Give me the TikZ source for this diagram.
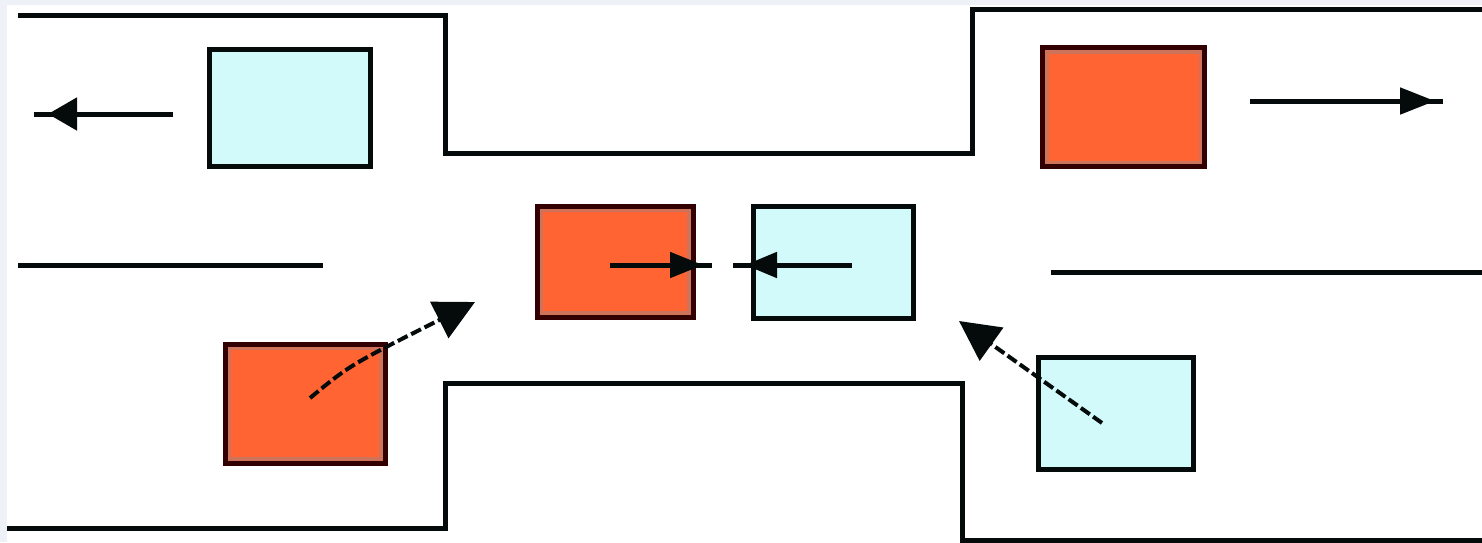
\documentclass[tikz,border=0pt]{standalone}
\usetikzlibrary{arrows.meta}
\definecolor{cyanfill}{RGB}{210,250,250}
\definecolor{orangefill}{RGB}{255,100,50}
\definecolor{orangering}{RGB}{205,115,90}
\definecolor{darkborder}{RGB}{50,0,0}
\definecolor{ink}{RGB}{5,10,10}
\definecolor{edgetint}{RGB}{238,242,248}
\begin{document}
\begin{tikzpicture}[x=1pt,y=-1pt,
  wall/.style={draw=ink,line width=5pt,line join=miter},
  cyanbox/.style={draw=ink,fill=cyanfill,line width=5pt,inner sep=0pt,rectangle},
  orangebox/.style={draw=darkborder,fill=orangefill,line width=5pt,inner sep=0pt,rectangle,
    path picture={\draw[orangering,line width=12pt] (path picture bounding box.north west) rectangle (path picture bounding box.south east);}},
  motion/.style={draw=ink,line width=5pt},
  dashmove/.style={draw=ink,line width=4pt,dash pattern=on 11pt off 4pt}
]
\useasboundingbox (0,0) rectangle (1482,542);
\fill[white] (0,0) rectangle (1482,542);
\fill[edgetint] (0,0) rectangle (1482,5);
\fill[edgetint] (0,0) rectangle (7,542);

% walls
\draw[wall] (18,15.5) -- (445,15.5) -- (445,153) -- (972,153) -- (972,9.5) -- (1482,9.5);
\draw[wall] (7,528) -- (445,528) -- (445,383.5) -- (962,383.5) -- (962,540) -- (1482,540);
\draw[wall] (18,265) -- (323,265);
\draw[wall] (1051,272) -- (1482,272);

% boxes
\node[cyanbox,minimum width=161pt,minimum height=117pt] (cyanTL) at (289.5,107.5) {};
\node[orangebox,minimum width=162pt,minimum height=119pt] (orangeTR) at (1123.5,107) {};
\node[orangebox,minimum width=156pt,minimum height=111pt] (orangeC) at (615,261.5) {};
\node[cyanbox,minimum width=160pt,minimum height=112pt] (cyanC) at (833,262) {};
\node[orangebox,minimum width=160pt,minimum height=119pt] (orangeBL) at (305,403.5) {};
\node[cyanbox,minimum width=155pt,minimum height=112pt] (cyanBR) at (1115.5,413) {};

% motion arrows: full line, head overlaid
\coordinate (tlS) at (173,114); \coordinate (tlT) at (48,114); \coordinate (tlE) at (34,114);
\draw[motion] (tlS) -- (tlE);
\draw[motion,-{Triangle[length=29pt,width=32pt]}] (tlS) -- (tlT);

\coordinate (trS) at (1250,101); \coordinate (trT) at (1435,101); \coordinate (trE) at (1443,101);
\draw[motion] (trS) -- (trE);
\draw[motion,-{Triangle[length=35pt,width=26pt]}] (trS) -- (trT);

\coordinate (ocS) at (610,265); \coordinate (ocT) at (703,265); \coordinate (ocE) at (712,265);
\draw[motion] (ocS) -- (ocE);
\draw[motion,-{Triangle[length=33pt,width=25pt]}] (ocS) -- (ocT);

\coordinate (ccS) at (852,265); \coordinate (ccT) at (745,265); \coordinate (ccE) at (733,265);
\draw[motion] (ccS) -- (ccE);
\draw[motion,-{Triangle[length=32pt,width=25pt]}] (ccS) -- (ccT);

% dashed arrows
\coordinate (blS) at (310,398); \coordinate (blC) at (350,365); \coordinate (blT) at (475,302);
\draw[dashmove,-{Triangle[length=40pt,width=40pt]}] (blS) .. controls (blC) .. (blT);

\coordinate (brS) at (1102,423); \coordinate (brT) at (959,321);
\draw[dashmove,-{Triangle[length=40pt,width=40pt]}] (brS) -- (brT);
\end{tikzpicture}
\end{document}
